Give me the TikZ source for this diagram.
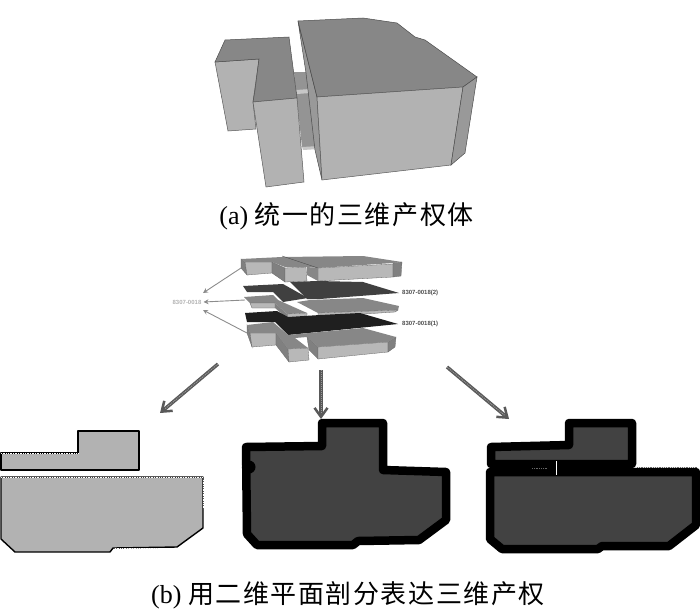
\documentclass[tikz,border=0pt]{standalone}
\usepackage{fontspec}
\usepackage{tikz}
\usetikzlibrary{arrows.meta, positioning}
\setmainfont{Liberation Serif}
\newfontfamily\cjkfont[LetterSpace=6]{Noto Sans CJK SC}
\setsansfont{Liberation Sans}
\tikzset{
  topface/.style={fill=black!47, draw=black!70, line width=0.5pt},
  frontface/.style={fill=black!30, draw=black!65, line width=0.5pt},
  sideface/.style={fill=black!40, draw=black!70, line width=0.5pt},
  plate/.style={fill=black!75, draw=none},
  lighttop/.style={fill=black!47, draw=none},
  lightfront/.style={fill=black!28, draw=black!60, line width=0.3pt},
  darkside/.style={fill=black!50, draw=black!60, line width=0.3pt},
  thinarrow/.style={-{Stealth[length=5pt,width=5pt]}, black!45, line width=0.9pt},
  fatarrow/.style={-{Straight Barb[length=9pt,width=13pt,line width=2.5pt]}, black!65, line width=3.5pt},
  fatdots/.style={black!40, line width=1pt, densely dotted, shorten >=6pt},
  lightplan/.style={fill=black!30, draw=black, line width=1.4pt, line join=round},
  darkplan/.style={fill=black!74, draw=black, line width=8.5pt, line join=round},
  planedge/.style={white, line width=0.7pt, densely dotted},
  codelabel/.style={font=\sffamily\bfseries\fontsize{6}{6}\selectfont, inner sep=0pt},
  caption/.style={font=\fontsize{26}{26}\selectfont, inner sep=0pt}
}
\begin{document}
\begin{tikzpicture}[x=1pt,y=-1pt]
\useasboundingbox (0,0) rectangle (700,610);

% Solid at the top
\fill[black!42] (294,72) -- (306,72) -- (319,147) -- (302,147) -- cycle;
\fill[black!22] (296,90) -- (310,89) -- (310,93) -- (297,94) -- cycle;
\fill[black!22] (302,147) -- (319,146) -- (319,149) -- (303,150) -- cycle;
\draw[sideface] (298,21) -- (317,97) -- (322,180) -- (315,150) -- (306,73) -- cycle;
\draw[frontface] (215,62) -- (259,59) -- (253,102) -- (256,129) -- (228,131) -- cycle;
\draw[topface] (215,62) -- (225,40) -- (289,37) -- (297,98) -- (253,102) -- (255,90) -- (259,59) -- cycle;
\draw[frontface] (253,102) -- (297,98) -- (304,182) -- (266,187) -- cycle;
\draw[topface] (298,21) -- (363,18) -- (397,23) -- (415,37) -- (425,40) -- (477,77) -- (463,87) -- (317,97) -- cycle;
\draw[frontface] (317,97) -- (463,87) -- (451,165) -- (322,180) -- cycle;
\draw[sideface] (463,87) -- (477,77) -- (465,153) -- (451,165) -- cycle;

\node[caption] (captiona) at (346.5,216) {(a) {\cjkfont 统一的三维产权体}};

% Exploded layers: upper
\draw[darkside] (241,259) -- (245,262) -- (247,275) -- (241,268) -- cycle;
\draw[lightfront] (245,262) -- (272,262) -- (272,273) -- (247,275) -- cycle;
\draw[darkside] (272,262) -- (285,268) -- (285,282) -- (272,273) -- cycle;
\draw[lightfront] (285,268) -- (306,267) -- (307,281) -- (285,282) -- cycle;
\draw[lightfront] (318,268) -- (393,264) -- (393,277) -- (318,281) -- cycle;
\draw[darkside] (393,263) -- (402,262) -- (401,276) -- (393,277) -- cycle;
\fill[lighttop] (241,259) -- (282,257) -- (363,256) -- (402,262) -- (393,263) -- (318,268) -- (307,267) -- (285,267) -- (272,262) -- (245,262) -- cycle;
\draw[black!70, line width=0.4pt] (282,256) -- (318,268);
\fill[lighttop] (307,267) -- (318,268) -- (318,281) -- (307,275) -- cycle;

% Exploded layers: dark plate
\fill[plate] (243,286) -- (283,284) -- (308,298) -- (283,302) -- (273,292) -- (247,292) -- cycle;
\fill[plate] (290,282) -- (317,281) -- (363,282) -- (399,293) -- (320,299) -- (307,299) -- cycle;

% Exploded layers: middle
\fill[lighttop] (244,297) -- (273,295) -- (278,300) -- (307,313) -- (287,314) -- (275,303) -- (250,303) -- cycle;
\draw[lightfront] (250,303) -- (275,303) -- (275,308) -- (252,308) -- cycle;
\draw[lightfront] (287,314) -- (307,313) -- (307,318) -- (288,319) -- cycle;
\fill[black!50] (275,303) -- (287,314) -- (288,319) -- (275,308) -- cycle;
\fill[lighttop] (297,302) -- (310,300) -- (363,298) -- (399,306) -- (398,310) -- (318,313) -- cycle;
\draw[lightfront] (318,313) -- (398,310) -- (395,312) -- (318,317) -- cycle;

% Exploded layers: dark plate
\fill[black!88] (245,313) -- (277,311) -- (288,317) -- (320,315) -- (360,313) -- (398,324) -- (288,335) -- (275,322) -- (247,322) -- cycle;

% Exploded layers: lower
\draw[darkside] (247,325) -- (250,333) -- (252,347) -- (247,333) -- cycle;
\draw[lightfront] (250,333) -- (276,333) -- (276,345) -- (252,347) -- cycle;
\draw[darkside] (276,333) -- (288,349) -- (289,362) -- (276,345) -- cycle;
\draw[lightfront] (288,349) -- (308,348) -- (309,360) -- (289,362) -- cycle;
\draw[darkside] (307,337) -- (318,347) -- (318,359) -- (309,350) -- cycle;
\draw[lightfront] (318,347) -- (388,342) -- (388,352) -- (318,359) -- cycle;
\draw[darkside] (388,342) -- (396,337) -- (395,347) -- (388,352) -- cycle;
\fill[lighttop] (247,325) -- (273,322) -- (288,335) -- (320,332) -- (363,328) -- (396,337) -- (388,342) -- (318,347) -- (307,337) -- (295,338) -- (308,348) -- (288,349) -- (276,333) -- (250,333) -- cycle;

% Labels of the layers
\node[codelabel, text=black!30] (codemain) at (187,302) {8307-0018};
\node[codelabel, text=black!70, anchor=west] (codetwo) at (402,293) {8307-0018(2)};
\node[codelabel, text=black!70, anchor=west] (codeone) at (402,324) {8307-0018(1)};

\coordinate (uppercorner) at (241,268);
\coordinate (uppertip) at (203,293);
\coordinate (midcorner) at (245,300);
\coordinate (lowercorner) at (247,333);
\coordinate (lowertip) at (203,310);
\draw[thinarrow] (uppercorner) -- (uppertip);
\draw[thinarrow] (midcorner) -- ([xshift=2pt]codemain.east);
\draw[thinarrow] (lowercorner) -- (lowertip);

% Arrows down to the plans
\coordinate (leftstart) at (218,364);
\coordinate (lefttip) at (160,413);
\coordinate (midstart) at (321,370);
\coordinate (midtip) at (321,419);
\coordinate (rightstart) at (447,367);
\coordinate (righttip) at (509,419);
\foreach \st/\tp in {leftstart/lefttip,midstart/midtip,rightstart/righttip}{
  \draw[fatarrow] (\st) -- (\tp);
  \draw[fatdots] (\st) -- (\tp);
}

% Plan on the left
\draw[lightplan] (1,453) -- (78,453) -- (78,431) -- (139,431) -- (139,470) -- (1,470) -- cycle;
\draw[lightplan] (1,477) -- (203,477) -- (203,528) -- (177,547) -- (113,548) -- (110,552) -- (15,552) -- (1,539) -- cycle;
\draw[planedge] (1,453) -- (78,453);
\draw[planedge] (1,477) -- (203,477);
\draw[planedge] (203,480) -- (203,508);
\draw[planedge] (115,548) -- (163,548);

% Plan in the middle
\draw[darkplan] (246,447) -- (322,446) -- (322,423) -- (383,423) -- (383,470) -- (446,472) -- (446,520) -- (419,540) -- (358,541) -- (353,545) -- (257,545) -- (247,534) -- cycle;
\fill (249,467) circle (6.5);
\fill[white] (240,466) circle (1.8);

% Plan on the right
\draw[darkplan] (490,472) -- (696,472) -- (696,525) -- (669,546) -- (602,546) -- (598,549) -- (502,549) -- (490,539) -- cycle;
\draw[darkplan] (491,447) -- (569,445) -- (569,423) -- (632,423) -- (632,464) -- (491,464) -- cycle;
\draw[white, line width=0.8pt] (556,461) -- (556,475);
\draw[black!60, line width=0.8pt, densely dotted] (532,468) -- (547,468);
\draw[black!60, line width=0.8pt, densely dotted] (637,467) -- (697,467);

\node[caption] (captionb) at (348,595) {(b) {\cjkfont 用二维平面剖分表达三维产权}};
\end{tikzpicture}
\end{document}
